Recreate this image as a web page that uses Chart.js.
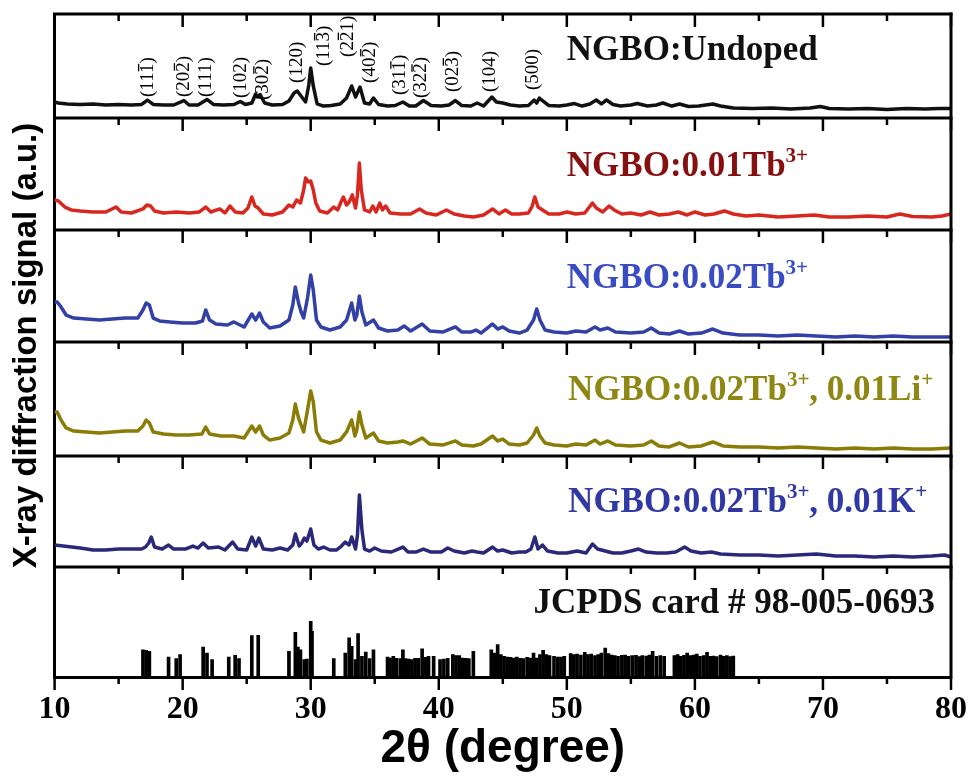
<!DOCTYPE html>
<html>
<head>
<meta charset="utf-8">
<script src="https://cdn.jsdelivr.net/npm/chart.js@4.4.1/dist/chart.umd.min.js"></script>
<style>
  html, body { margin: 0; padding: 0; background: #fff; }
</style>
</head>
<body>
<canvas id="xrdChart" width="973" height="776"></canvas>
<script>
// XRD patterns, [2θ (deg), intensity (a.u., each panel 0-100)]
const undoped = [
  [10.0,15.4],[10.3,14.4],[11,13.5],[12,13.0],[13,13.5],[14,12.5],[15,13.0],[16,12.5],[16.8,13.0],[17.25,17.3],[17.7,13.0],[18.5,12.5],[19.3,12.5],[20.1,16.8],[20.5,12.5],[21.2,12.5],[21.9,17.8],[22.4,13.0],[23.2,12.5],[24.0,13.0],[24.5,15.9],[24.9,13.0],[25.4,14.4],[25.7,23.1],[25.85,20.2],[26.05,22.6],[26.4,14.4],[27.0,12.5],[27.8,13.0],[28.3,16.3],[28.7,24.0],[28.95,26.0],[29.3,20.2],[29.6,15.4],[29.85,31.7],[30.0,48.1],[30.2,30.8],[30.5,13.5],[31.0,11.5],[31.6,12.0],[32.3,13.5],[32.8,19.2],[33.2,30.8],[33.5,20.2],[33.85,29.8],[34.2,14.4],[34.6,13.5],[34.9,19.2],[35.3,13.0],[36.0,11.5],[36.6,12.0],[37.2,15.4],[37.7,11.5],[38.2,11.5],[38.8,16.8],[39.4,12.0],[40.2,11.5],[40.8,12.5],[41.3,16.8],[41.8,12.0],[42.5,11.5],[43.0,14.4],[43.5,11.5],[44.15,20.2],[44.5,15.4],[45.0,14.4],[45.6,12.5],[46.3,11.5],[47.0,12.0],[47.45,17.3],[47.65,14.4],[47.85,19.2],[48.15,16.3],[48.6,12.0],[49.4,11.5],[50.0,12.5],[50.6,13.9],[51.2,11.5],[51.8,13.5],[52.3,17.3],[52.7,13.5],[53.1,17.3],[53.6,13.0],[54.2,11.5],[55.0,12.5],[55.5,13.9],[56.3,11.5],[57.0,12.5],[57.5,14.4],[58.2,11.5],[58.8,13.5],[59.5,11.1],[60.3,11.5],[61.4,13.5],[62.0,11.5],[63.0,9.6],[64.5,9.1],[66.0,9.6],[67.5,8.7],[69.0,9.6],[69.8,11.1],[70.5,9.1],[72.0,8.7],[73.5,9.1],[75.0,8.2],[76.5,9.1],[78.0,8.7],[79.0,9.1],[80.0,9.1]
];

const tb001 = [
  [10.0,26.8],[10.3,25.9],[10.8,20.5],[11.3,17.9],[12,17.0],[13,16.1],[14,16.1],[14.8,20.5],[15.2,16.1],[16,15.2],[16.9,18.8],[17.2,22.3],[17.5,21.4],[17.8,17.0],[18.5,15.2],[19.5,16.1],[20.5,15.2],[21.3,16.1],[21.8,20.5],[22.2,16.1],[22.9,18.8],[23.3,15.2],[23.7,21.4],[24.1,16.1],[24.7,15.2],[25.1,19.6],[25.4,29.5],[25.65,21.4],[25.9,19.6],[26.3,14.3],[27.0,13.4],[27.8,16.1],[28.3,22.3],[28.6,20.5],[28.9,26.8],[29.2,24.1],[29.45,35.7],[29.6,46.4],[29.8,42.9],[30.0,43.8],[30.2,35.7],[30.4,24.1],[30.7,17.0],[31.3,15.2],[31.8,20.5],[32.1,17.9],[32.4,25.9],[32.55,29.5],[32.8,22.3],[33.0,25.0],[33.25,31.3],[33.5,19.6],[33.65,31.3],[33.8,59.8],[33.95,35.7],[34.2,17.9],[34.6,16.1],[34.85,21.4],[35.1,16.1],[35.4,24.1],[35.6,17.9],[35.85,21.4],[36.2,15.2],[37.0,14.3],[37.8,14.3],[38.5,18.8],[39.0,15.2],[39.8,13.4],[40.6,17.9],[41.2,14.3],[42.0,12.5],[42.7,11.6],[43.5,13.4],[44.2,18.8],[44.7,14.3],[45.2,17.9],[45.7,14.3],[46.3,14.3],[47.0,15.2],[47.3,21.4],[47.5,29.5],[47.75,20.5],[48.1,17.9],[48.6,14.3],[49.4,14.3],[50.0,16.1],[50.7,14.3],[51.4,15.2],[52.0,24.1],[52.3,19.6],[52.8,16.1],[53.3,21.4],[53.7,17.9],[54.3,14.3],[55.0,15.2],[55.8,13.4],[56.5,16.1],[57.2,13.4],[58.0,14.3],[58.7,16.1],[59.4,13.4],[60.0,16.1],[60.8,13.4],[61.5,14.3],[62.3,17.0],[63.0,14.3],[64.0,12.5],[65.0,13.4],[66.5,11.6],[68.0,12.5],[69.3,13.4],[70.5,11.6],[72.0,11.6],[73.5,12.5],[75.0,11.6],[76.0,14.3],[77.0,12.1],[78.5,11.6],[79.3,12.5],[80.0,14.3]
];

const tb002 = [
  [10.0,35.7],[10.2,35.7],[10.5,31.3],[10.9,24.1],[11.5,21.4],[12.5,20.5],[13.5,19.6],[14.5,20.5],[15.5,21.4],[16.5,21.4],[16.9,28.6],[17.15,34.8],[17.4,33.0],[17.7,21.4],[18.2,18.8],[19.0,17.9],[20.0,17.0],[21.0,17.0],[21.55,18.8],[21.8,28.6],[22.1,19.6],[22.6,16.1],[23.5,15.2],[24.0,17.9],[24.8,13.4],[25.4,25.0],[25.7,19.6],[26.0,25.9],[26.3,17.9],[26.8,12.5],[27.6,14.3],[28.3,19.6],[28.6,33.0],[28.8,49.1],[29.05,34.8],[29.25,26.8],[29.45,21.4],[29.75,39.3],[30.0,59.8],[30.2,46.4],[30.45,19.6],[30.8,13.4],[31.5,10.7],[32.3,13.4],[32.8,19.6],[33.2,34.8],[33.45,19.6],[33.6,24.1],[33.8,41.1],[34.0,26.8],[34.3,15.2],[34.9,19.6],[35.3,12.5],[36.0,9.8],[36.8,10.7],[37.3,14.3],[37.8,9.8],[38.7,16.1],[39.3,9.8],[40.3,8.9],[41.3,13.4],[41.8,8.9],[42.5,8.9],[42.9,10.7],[43.3,8.0],[44.2,16.1],[44.6,11.6],[45.0,13.4],[45.5,9.8],[46.3,8.0],[46.9,10.7],[47.4,19.6],[47.65,29.5],[47.9,19.6],[48.3,10.7],[49.0,8.9],[50.0,8.0],[50.7,9.8],[51.5,8.9],[52.2,13.4],[52.6,10.7],[53.2,12.5],[53.8,8.9],[55.0,8.0],[56.0,8.9],[56.6,12.5],[57.2,8.0],[58.0,7.1],[58.8,9.8],[59.5,7.1],[60.5,8.0],[61.4,11.6],[62.2,8.0],[63.5,6.3],[65.0,6.3],[66.5,5.4],[68.0,6.3],[69.5,5.4],[71.0,4.5],[72.5,5.4],[74.0,4.5],[75.5,5.4],[77.0,4.5],[78.5,4.5],[80.0,4.5]
];

const tb002Li = [
  [10.0,38.6],[10.2,38.6],[10.5,31.6],[10.9,24.6],[11.5,21.9],[12.5,21.1],[13.5,20.2],[14.5,21.1],[15.5,21.9],[16.5,21.9],[16.9,26.3],[17.15,31.6],[17.4,28.9],[17.7,21.1],[18.5,19.3],[19.5,18.4],[20.5,18.4],[21.5,19.3],[21.8,25.4],[22.1,19.3],[23.0,17.5],[24.0,17.5],[24.8,15.8],[25.4,26.3],[25.7,21.1],[26.0,26.3],[26.3,18.4],[26.8,14.0],[27.6,15.8],[28.3,20.2],[28.6,31.6],[28.8,45.6],[29.05,33.3],[29.25,27.2],[29.45,21.1],[29.75,40.4],[30.0,57.0],[30.2,47.4],[30.45,21.1],[30.8,14.0],[31.5,11.4],[32.3,14.0],[32.8,21.1],[33.2,31.6],[33.45,17.5],[33.6,22.8],[33.8,38.6],[34.0,27.2],[34.3,15.8],[34.9,20.2],[35.3,13.2],[36.0,11.4],[36.8,12.3],[37.2,13.2],[37.8,10.5],[38.7,15.8],[39.3,10.5],[40.3,9.6],[41.3,13.2],[41.8,9.6],[42.7,8.8],[43.3,10.5],[44.2,17.5],[44.6,13.2],[45.0,14.9],[45.5,10.5],[46.3,9.6],[46.9,11.4],[47.4,18.4],[47.65,24.6],[47.9,17.5],[48.3,11.4],[49.0,9.6],[50.0,8.8],[50.7,10.5],[51.5,9.6],[52.2,14.0],[52.6,10.5],[53.2,13.2],[53.8,9.6],[55.0,8.8],[56.0,9.6],[56.6,13.2],[57.2,8.8],[58.0,7.9],[58.8,11.4],[59.5,7.9],[60.5,8.8],[61.4,12.3],[62.2,8.8],[63.5,7.9],[65.0,7.9],[66.5,7.0],[68.0,7.9],[69.5,7.0],[71.0,6.1],[72.5,7.0],[74.0,6.1],[75.5,7.0],[77.0,6.1],[78.5,6.1],[80.0,7.0]
];

const tb002K = [
  [10.0,19.8],[11.0,18.5],[12.0,17.1],[13.0,15.3],[14.0,15.3],[15.0,16.2],[16.0,16.2],[16.8,16.2],[17.1,18.0],[17.35,21.6],[17.55,27.0],[17.8,18.0],[18.4,16.2],[18.9,19.8],[19.3,16.2],[20.2,16.2],[20.8,18.9],[21.2,17.1],[21.6,21.6],[22.0,17.1],[22.8,18.0],[23.3,15.3],[23.9,22.5],[24.3,16.2],[25.0,15.3],[25.4,27.0],[25.7,18.9],[25.95,26.1],[26.3,16.2],[27.0,15.3],[27.6,17.1],[28.2,15.3],[28.6,19.8],[28.8,29.7],[29.1,18.9],[29.3,21.6],[29.5,26.1],[29.7,23.4],[30.0,34.2],[30.25,19.8],[30.6,16.2],[31.0,18.0],[31.5,15.3],[32.0,15.3],[32.4,18.9],[32.7,22.5],[33.0,19.8],[33.2,27.0],[33.5,16.2],[33.65,28.8],[33.8,64.9],[34.0,33.3],[34.2,16.2],[34.6,14.4],[35.0,17.1],[35.5,14.4],[36.3,13.5],[37.2,18.0],[37.6,13.5],[38.2,13.5],[38.8,16.2],[39.4,13.5],[40.2,13.5],[40.7,17.1],[41.2,14.4],[42.0,12.6],[42.6,14.4],[43.0,13.5],[43.5,12.6],[44.2,18.0],[44.6,14.4],[45.0,15.3],[45.7,12.6],[46.3,13.5],[46.8,13.5],[47.2,16.2],[47.5,27.0],[47.75,16.2],[48.1,19.8],[48.5,14.4],[49.3,12.6],[50.0,12.6],[50.8,14.4],[51.5,12.6],[52.0,20.7],[52.4,16.2],[53.0,14.4],[53.6,12.6],[54.3,12.6],[55.0,14.4],[55.6,16.2],[56.2,13.5],[57.0,12.6],[57.8,12.6],[58.5,13.5],[59.2,18.0],[59.7,14.4],[60.5,12.6],[61.3,13.5],[62.0,11.7],[63.5,10.8],[65.0,10.8],[66.5,9.9],[68.0,10.8],[69.5,11.7],[71.0,9.9],[72.5,9.9],[74.0,9.0],[75.5,9.9],[77.0,9.0],[78.5,9.9],[79.5,10.8],[80.0,9.0]
];

// JCPDS card # 98-005-0693 reflections
const jcpdsPos = [16.9,17.15,17.4,18.9,19.5,19.8,21.6,21.9,22.3,23.6,24.1,24.4,25.4,25.9,28.3,28.8,29.0,29.2,29.5,29.7,30.0,30.1,31.8,32.7,33.0,33.2,33.5,33.7,34.0,34.3,34.6,34.9,36.0,36.2,36.45,36.7,37.0,37.2,37.4,37.65,37.9,38.15,38.4,38.7,38.95,39.2,39.6,40.1,40.4,40.7,41.1,41.35,41.6,41.85,42.1,42.35,42.7,44.1,44.35,44.6,44.85,45.1,45.35,45.6,45.85,46.1,46.35,46.6,46.9,47.15,47.4,47.65,47.9,48.15,48.4,48.65,49.0,49.3,49.55,49.8,50.3,50.55,50.8,51.1,51.4,51.65,51.9,52.2,52.45,52.7,53.0,53.25,53.5,53.75,54.0,54.3,54.55,54.8,55.1,55.4,55.65,55.9,56.2,56.45,56.7,57.0,57.3,57.6,58.4,58.65,58.9,59.15,59.4,59.65,59.9,60.15,60.4,60.7,60.95,61.2,61.45,61.7,62.0,62.25,62.5,62.75,63.0];
const jcpdsInt = [24.8,24.2,23.3,18.2,16.7,20.3,27.3,21.8,15.8,18.2,19.7,16.7,37.6,37.9,23.3,40.6,27.3,24.8,15.8,16.4,50.6,41.5,16.7,21.8,35.5,27.9,15.8,39.4,18.8,22.7,16.7,24.8,18.2,17.3,18.8,17.0,16.7,24.8,16.7,16.4,15.8,17.0,17.0,25.5,17.9,18.8,18.8,15.8,16.4,17.0,20.3,19.4,19.4,17.3,17.0,16.7,23.3,24.8,21.8,29.4,20.3,18.8,18.2,17.9,17.3,18.2,17.0,16.7,17.9,17.3,21.8,17.3,20.3,24.2,20.3,19.4,18.8,18.2,18.2,18.8,21.2,20.3,20.9,20.0,22.4,20.3,20.9,19.4,20.3,21.8,26.4,21.2,20.0,19.4,18.8,19.7,20.0,18.8,19.4,19.7,18.5,19.4,19.1,20.0,23.3,18.8,19.4,18.8,19.4,20.3,18.8,19.7,21.8,19.4,20.0,20.9,18.8,19.4,22.4,18.8,19.1,18.5,20.0,18.8,19.4,18.5,19.1];

// Miller indices of the undoped pattern, "-" marks a barred digit
const millerLabels = ['(11-1)','(20-2)','(111)','(102)','(30-2)','(120)','(11-3)','(2-21)','(40-2)','(31-1)','(32-2)','(02-3)','(104)','(500)'];
const millerPos = [17.3,20.1,21.85,24.55,26.3,28.9,31.05,32.9,34.65,37.0,38.65,41.1,44.0,47.35];
const millerBase = [20.2,20.2,20.2,19.2,17.3,33.7,50.0,58.7,33.7,22.1,19.2,25.0,25.0,26.9];

// panel captions: plain text, superscript, plain text, superscript...
const sampleNames = [
  ['NGBO:Undoped'],
  ['NGBO:0.01Tb', '3+'],
  ['NGBO:0.02Tb', '3+'],
  ['NGBO:0.02Tb', '3+', ', 0.01Li', '+'],
  ['NGBO:0.02Tb', '3+', ', 0.01K', '+'],
  ['JCPDS card # 98-005-0693']
];
const nameX = [50.0, 50.0, 50.0, 50.1, 50.1, 47.4];
const nameY = [55.8, 48.2, 48.2, 49.1, 49.5, 58.2];

const lineColors = ['#111111', '#d7271f', '#3340a6', '#8a7c06', '#2a2878', '#000000'];
const nameColors = ['#111111', '#861010', '#3a4cc2', '#8e8714', '#3038a4', '#111111'];

const panelIds = ['y0', 'y1', 'y2', 'y3', 'y4', 'y5'];
const panelWeights = [104, 112, 112, 114, 111, 110];

const toPoints = arr => arr.map(([x, y]) => ({ x, y }));

const patterns = [undoped, tb001, tb002, tb002Li, tb002K];

const datasets = patterns.map((p, i) => ({
  type: 'line',
  data: toPoints(p),
  yAxisID: panelIds[i],
  borderColor: lineColors[i],
  borderWidth: 3.5,
  borderJoinStyle: 'round',
  pointRadius: 0,
  tension: 0,
  fill: false
}));

datasets.push({
  type: 'bar',
  data: jcpdsPos.map((x, i) => ({ x, y: jcpdsInt[i] })),
  yAxisID: 'y5',
  backgroundColor: '#000',
  borderWidth: 0,
  barThickness: 3
});

const scales = {
  x: {
    type: 'linear',
    min: 10,
    max: 80,
    offset: false,
    position: 'bottom',
    afterFit: s => {
      s.height = 95;
      s.paddingRight = 22;
    },
    ticks: {
      stepSize: 5,
      autoSkip: false,
      maxRotation: 0,
      padding: 17,
      color: '#000',
      font: { family: 'Liberation Serif', weight: 'bold', size: 32, lineHeight: 1 },
      callback: v => (v % 10 === 0 ? v : '')
    },
    grid: { display: false, drawTicks: false, offset: false },
    border: { display: true, color: '#000', width: 3 },
    title: {
      display: true,
      text: '2θ (degree)',
      color: '#000',
      padding: 0,
      font: { family: 'Liberation Sans', weight: 'bold', size: 46, lineHeight: 1 }
    }
  },
  yTitle: {
    type: 'linear',
    position: 'left',
    weight: 10,
    ticks: { display: false },
    grid: { display: false, drawTicks: false },
    border: { display: false },
    title: {
      display: true,
      text: 'X-ray diffraction signal (a.u.)',
      color: '#000',
      padding: { top: 0, bottom: 8 },
      font: { family: 'Liberation Sans', weight: 'bold', size: 33 }
    }
  }
};

panelIds.forEach((id, i) => {
  scales[id] = {
    type: 'linear',
    position: 'left',
    stack: 'xrd',
    stackWeight: panelWeights[i],
    weight: 6 - i,
    min: 0,
    max: 100,
    ticks: { display: false },
    grid: { display: false, drawTicks: false },
    border: { display: true, color: '#000', width: 3 }
  };
});

// panel frames, tick marks and captions
const framePlugin = {
  id: 'xrdFrame',
  afterDraw(chart) {
    const { ctx, chartArea, scales } = chart;
    const x = scales.x;
    ctx.save();
    ctx.strokeStyle = '#000';
    ctx.lineWidth = 3;
    panelIds.forEach(id => {
      const top = scales[id].top;
      ctx.beginPath();
      ctx.moveTo(chartArea.left - 1.5, top);
      ctx.lineTo(chartArea.right + 1.5, top);
      ctx.stroke();
    });
    ctx.beginPath();
    ctx.moveTo(chartArea.right, chartArea.top - 1.5);
    ctx.lineTo(chartArea.right, chartArea.bottom + 1.5);
    ctx.stroke();

    ctx.lineWidth = 2.5;
    x.ticks.forEach(t => {
      const px = x.getPixelForValue(t.value);
      const len = t.value % 10 === 0 ? 13 : 7;
      panelIds.forEach(id => {
        const top = scales[id].top;
        ctx.beginPath();
        ctx.moveTo(px, top);
        ctx.lineTo(px, top + len);
        ctx.stroke();
      });
      ctx.beginPath();
      ctx.moveTo(px, chartArea.bottom);
      ctx.lineTo(px, chartArea.bottom + len);
      ctx.stroke();
    });

    // Miller indices, rotated
    ctx.fillStyle = '#000';
    ctx.font = '19px "Liberation Serif"';
    millerLabels.forEach((lab, i) => {
      const bar = lab.indexOf('-');
      const text = lab.replace('-', '');
      ctx.save();
      ctx.translate(x.getPixelForValue(millerPos[i]), scales.y0.getPixelForValue(millerBase[i]));
      ctx.rotate(-Math.PI / 2);
      ctx.textAlign = 'left';
      ctx.textBaseline = 'middle';
      ctx.fillText(text, 0, 0);
      if (bar >= 0) {
        const x0 = ctx.measureText(text.slice(0, bar)).width;
        const w = ctx.measureText(text[bar]).width;
        ctx.lineWidth = 1.3;
        ctx.beginPath();
        ctx.moveTo(x0 + 1, -9.5);
        ctx.lineTo(x0 + w - 1, -9.5);
        ctx.stroke();
      }
      ctx.restore();
    });

    // sample captions with superscripts
    ctx.textAlign = 'left';
    ctx.textBaseline = 'alphabetic';
    sampleNames.forEach((parts, i) => {
      let px = x.getPixelForValue(nameX[i]);
      const py = scales[panelIds[i]].getPixelForValue(nameY[i]);
      ctx.fillStyle = nameColors[i];
      parts.forEach((seg, k) => {
        const sup = k % 2 === 1;
        ctx.font = sup ? 'bold 21px "Liberation Serif"' : 'bold 35px "Liberation Serif"';
        ctx.fillText(seg, px, sup ? py - 14 : py);
        px += ctx.measureText(seg).width;
      });
    });
    ctx.restore();
  }
};

new Chart(document.getElementById('xrdChart'), {
  type: 'line',
  data: { datasets },
  options: {
    responsive: false,
    devicePixelRatio: 1,
    animation: false,
    layout: { padding: { left: 7, right: 7, top: 14, bottom: 4 } },
    plugins: { legend: { display: false }, tooltip: { enabled: false } },
    scales
  },
  plugins: [framePlugin]
});
</script>
</body>
</html>
